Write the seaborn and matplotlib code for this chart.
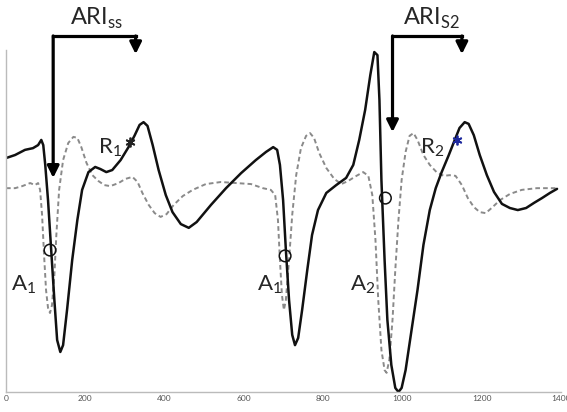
import numpy as np
import pandas as pd
import matplotlib
matplotlib.use("Agg")
import matplotlib.pyplot as plt
import seaborn as sns

# solid trace (time in ms, arbitrary velocity units)
solid_t = [0, 23, 48, 68, 81, 89, 94, 99, 106, 114, 122, 129, 137, 144, 154, 167, 180, 192,
           208, 225, 238, 253, 268, 289, 309, 324, 337, 347, 357, 370, 385, 403, 420, 441,
           461, 481, 517, 555, 593, 630, 656, 674, 684, 691, 699, 706, 714, 722, 729, 737,
           747, 760, 772, 787, 808, 833, 858, 876, 891, 906, 919, 929, 937, 942, 947, 955,
           962, 972, 982, 990, 998, 1008, 1023, 1038, 1053, 1069, 1084, 1099, 1117, 1132,
           1144, 1157, 1167, 1180, 1195, 1213, 1231, 1251, 1271, 1291, 1312, 1332, 1352,
           1372, 1390]
solid_v = [18.4, 19.3, 20.8, 21.3, 22.2, 23.7, 22.2, 16.4, 6.1, -8.5, -23.1, -34.8, -38.3,
           -36.3, -26.0, -11.4, 0.3, 9.1, 14.3, 15.8, 15.2, 14.3, 14.9, 17.8, 21.6, 24.9,
           28.1, 28.9, 27.8, 22.2, 14.9, 7.6, 2.6, -0.9, -2.0, -0.3, 4.7, 9.6, 14.0, 17.8,
           20.2, 21.6, 20.8, 16.4, 6.1, -8.5, -23.1, -33.3, -36.3, -34.2, -26.0, -14.3,
           -4.1, 3.2, 8.2, 10.5, 12.6, 16.4, 23.7, 32.5, 42.7, 49.4, 48.5, 35.4, 12.0,
           -11.4, -28.9, -42.1, -48.8, -50.0, -48.8, -43.6, -31.9, -20.2, -7.0, 3.2, 9.6,
           14.3, 19.3, 23.7, 27.2, 28.9, 28.4, 25.1, 19.3, 13.4, 8.5, 5.0, 3.8, 3.2, 3.8,
           5.3, 6.7, 8.2, 9.4]

# dashed trace
dash_t = [0, 23, 41, 61, 73, 81, 86, 91, 96, 101, 106, 111, 116, 122, 127, 134, 144, 157,
          170, 180, 190, 203, 218, 233, 248, 263, 284, 301, 319, 332, 344, 360, 375, 390,
          405, 423, 446, 471, 504, 542, 580, 618, 648, 668, 679, 686, 691, 696, 701, 706,
          714, 722, 732, 744, 757, 767, 777, 790, 808, 828, 846, 863, 884, 901, 914, 924,
          932, 939, 947, 955, 960, 967, 975, 982, 990, 998, 1008, 1018, 1028, 1038, 1053,
          1069, 1086, 1104, 1119, 1134, 1150, 1165, 1180, 1195, 1210, 1225, 1246, 1271,
          1301, 1339, 1390]
dash_v = [9.6, 9.6, 10.2, 11.1, 10.5, 11.1, 9.1, 1.8, -9.9, -20.2, -25.4, -26.9, -24.6,
          -15.8, -4.1, 9.1, 17.8, 22.8, 24.6, 24.3, 21.6, 17.0, 13.4, 11.7, 10.5, 10.2,
          11.1, 12.3, 12.9, 11.4, 8.2, 4.7, 2.3, 1.2, 2.0, 4.7, 7.3, 9.1, 10.8, 11.4, 11.1,
          10.8, 9.6, 9.1, 7.6, 0.3, -11.4, -21.6, -26.0, -23.1, -11.4, 1.8, 13.4, 21.3,
          24.9, 25.7, 24.3, 19.9, 15.5, 12.3, 10.8, 11.7, 13.2, 14.3, 13.2, 7.6, -5.6,
          -23.1, -37.7, -43.6, -44.4, -40.6, -28.9, -14.3, 0.3, 12.0, 20.2, 24.9, 25.7,
          23.7, 19.3, 16.4, 14.3, 13.2, 13.4, 13.2, 10.5, 6.7, 4.1, 2.6, 2.3, 3.8, 6.1,
          7.9, 9.1, 9.6, 9.6]

circle_t = [111, 704, 957]
circle_v = [-8.5, -10.2, 6.7]
star_t = [314, 1137]
star_v = [23.1, 23.7]
star_colors = ["#222222", "#1f2a9e"]

xticks = [0, 200, 400, 600, 800, 1000, 1200, 1400]

sns.set_style("white")
plt.rcParams["font.family"] = ["Lato", "DejaVu Sans"]
plt.rcParams["mathtext.fontset"] = "custom"
plt.rcParams["mathtext.rm"] = "Lato"

fig = plt.figure(figsize=(5.67, 4.12), dpi=100)
ax = fig.add_axes([6 / 567, 20 / 412, 555 / 567, 342 / 412])

sns.lineplot(x=dash_t, y=dash_v, ax=ax, color="#8a8a8a", linewidth=1.4,
             linestyle=(0, (2.4, 1.6)), sort=False)
sns.lineplot(x=solid_t, y=solid_v, ax=ax, color="#111111", linewidth=1.8, sort=False)

sns.scatterplot(x=circle_t, y=circle_v, ax=ax, marker="o", s=70, facecolor="none",
                edgecolor="#111111", linewidth=1.1, zorder=5)
for t, v, c in zip(star_t, star_v, star_colors):
    ax.plot(t, v, marker=(6, 2, 0), markersize=7, color=c, mew=1.3, zorder=6)

ax.set_xlim(0, 1400)
ax.set_ylim(-50, 50)
ax.set_xticks(xticks)
ax.set_xticklabels([str(x) for x in xticks])
ax.set_yticks([])
ax.tick_params(axis="x", direction="in", length=3, width=0.6, colors="#999999",
               labelsize=6, labelcolor="#555555", pad=2)
for side in ["top", "right"]:
    ax.spines[side].set_visible(False)
for side in ["left", "bottom"]:
    ax.spines[side].set_color("#bbbbbb")
    ax.spines[side].set_linewidth(1.0)

# ARI arrows
arrow_kw = dict(arrowstyle="-|>,head_length=0.7,head_width=0.35", color="black", lw=2.3,
                shrinkA=0, shrinkB=0)
for x0, x1, y_tip_long in [(119, 327, 12.6), (975, 1150, 26.0)]:
    ax.plot([x0, x1], [54.1, 54.1], color="black", lw=2.3, clip_on=False,
            solid_capstyle="projecting")
    ax.annotate("", xy=(x0, y_tip_long), xytext=(x0, 54.1), arrowprops=arrow_kw,
                annotation_clip=False)
    ax.annotate("", xy=(x1, 48.8), xytext=(x1, 54.1), arrowprops=arrow_kw,
                annotation_clip=False)

ax.text(228, 59.2, r"ARI$_{\mathregular{ss}}$", fontsize=17, ha="center", va="center",
        clip_on=False)
ax.text(1074, 59.2, r"ARI$_{\mathregular{S2}}$", fontsize=17, ha="center", va="center",
        clip_on=False)
ax.text(263, 21.5, r"R$_{\mathregular{1}}$", fontsize=16, ha="center", va="center")
ax.text(1074, 21.5, r"R$_{\mathregular{2}}$", fontsize=16, ha="center", va="center")
ax.text(44, -18.5, r"A$_{\mathregular{1}}$", fontsize=16, ha="center", va="center")
ax.text(665, -18.5, r"A$_{\mathregular{1}}$", fontsize=16, ha="center", va="center")
ax.text(900, -18.5, r"A$_{\mathregular{2}}$", fontsize=16, ha="center", va="center")

fig.savefig("out.png", dpi=100)
